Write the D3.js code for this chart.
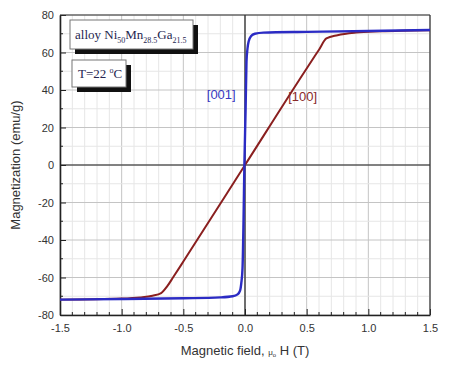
<!DOCTYPE html>
<html>
<head>
<meta charset="utf-8">
<script src="https://cdn.jsdelivr.net/npm/d3@7"></script>
<style>
  body { margin: 0; background: #fff; }
  svg { display: block; font-family: "Liberation Sans", Arial, sans-serif; }
</style>
</head>
<body>
<div id="chart"></div>
<script>
// field (T) and magnetization (emu/g)
const fieldTicks = [-1.5, -1.0, -0.5, 0.0, 0.5, 1.0, 1.5];
const magTicks = [-80, -60, -40, -20, 0, 20, 40, 60, 80];

const field001 = [-1.5, -1.0, -0.5, -0.2, -0.1, -0.06, -0.04, -0.03, -0.02, -0.012, -0.005, 0.005, 0.012, 0.02, 0.03, 0.05, 0.08, 0.15, 0.5, 1.0, 1.5];
const mag001 = [-71.8, -71.5, -71.1, -70.6, -70.0, -69.0, -67.0, -63.0, -55.0, -30.0, 0.0, 30.0, 55.0, 62.0, 66.0, 68.8, 70.0, 70.6, 71.0, 71.5, 72.0];

const field100 = [-1.5, -1.0, -0.85, -0.75, -0.68, -0.63, -0.58, -0.5, 0.0, 0.5, 0.6, 0.66, 0.75, 0.9, 1.1, 1.5];
const mag100 = [-71.8, -71.2, -70.6, -69.7, -68.3, -64.6, -59.6, -51.5, 0.0, 51.5, 61.5, 67.5, 69.2, 70.6, 71.3, 71.9];

const width = 450;
const height = 368;
const margin = { left: 60, right: 20, top: 15, bottom: 53 };

const svg = d3.select("#chart")
  .append("svg")
  .attr("width", width)
  .attr("height", height);

const x = d3.scaleLinear().domain([-1.5, 1.5]).range([margin.left, width - margin.right]);
const y = d3.scaleLinear().domain([-80, 80]).range([height - margin.bottom, margin.top]);

// grid: minor every 0.1 / 10, major every 0.5 / 20
const minorX = d3.range(-15, 16).map(d => d / 10);
const minorY = d3.range(-80, 81, 10);

svg.append("g").selectAll("line")
  .data(minorX)
  .enter()
  .append("line")
  .attr("x1", d => x(d)).attr("x2", d => x(d))
  .attr("y1", y(80)).attr("y2", y(-80))
  .attr("stroke", d => Math.abs(Math.round(d * 10)) % 5 === 0 ? "#c4c4c4" : "#e6e6e6")
  .attr("stroke-width", 1);

svg.append("g").selectAll("line")
  .data(minorY)
  .enter()
  .append("line")
  .attr("x1", x(-1.5)).attr("x2", x(1.5))
  .attr("y1", d => y(d)).attr("y2", d => y(d))
  .attr("stroke", d => d % 20 === 0 ? "#c4c4c4" : "#e6e6e6")
  .attr("stroke-width", 1);

// zero lines
svg.append("line")
  .attr("x1", x(0)).attr("x2", x(0)).attr("y1", y(80)).attr("y2", y(-80))
  .attr("stroke", "#222").attr("stroke-width", 1.2);
svg.append("line")
  .attr("x1", x(-1.5)).attr("x2", x(1.5)).attr("y1", y(0)).attr("y2", y(0))
  .attr("stroke", "#222").attr("stroke-width", 1.2);

// axes
const xAxis = d3.axisBottom(x).tickValues(fieldTicks).tickFormat(d3.format(".1f")).tickSizeInner(-6).tickSizeOuter(0).tickPadding(9);
const yAxis = d3.axisLeft(y).tickValues(magTicks).tickFormat(d3.format("d")).tickSizeInner(-6).tickSizeOuter(0).tickPadding(6);

const gx = svg.append("g").attr("transform", `translate(0,${y(-80)})`).call(xAxis);
const gy = svg.append("g").attr("transform", `translate(${x(-1.5)},0)`).call(yAxis);

[gx, gy].forEach(g => {
  g.select(".domain").attr("stroke", "#222").attr("stroke-width", 1.6);
  g.selectAll(".tick line").attr("stroke", "#222");
  g.selectAll(".tick text").attr("font-size", 11).attr("fill", "#333");
});
gx.selectAll(".tick text").text(d => d < 0 ? "-" + d3.format(".1f")(-d) : d3.format(".1f")(d));
gy.selectAll(".tick text").text(d => d < 0 ? "-" + (-d) : d);

// minor ticks
svg.append("g").selectAll("line")
  .data(minorX.filter(d => Math.abs(Math.round(d * 10)) % 5 !== 0))
  .enter()
  .append("line")
  .attr("x1", d => x(d)).attr("x2", d => x(d))
  .attr("y1", y(-80)).attr("y2", y(-80) - 3)
  .attr("stroke", "#222");
svg.append("g").selectAll("line")
  .data(minorY.filter(d => d % 20 !== 0))
  .enter()
  .append("line")
  .attr("x1", x(-1.5)).attr("x2", x(-1.5) + 3)
  .attr("y1", d => y(d)).attr("y2", d => y(d))
  .attr("stroke", "#222");

// top and right frame
svg.append("line")
  .attr("x1", x(-1.5)).attr("x2", x(1.5)).attr("y1", y(80)).attr("y2", y(80))
  .attr("stroke", "#333").attr("stroke-width", 1.2);
svg.append("line")
  .attr("x1", x(1.5)).attr("x2", x(1.5)).attr("y1", y(80)).attr("y2", y(-80))
  .attr("stroke", "#333").attr("stroke-width", 1.2);

// curves
const line = d3.line().x(d => x(d[0])).y(d => y(d[1])).curve(d3.curveMonotoneX);

svg.append("path")
  .datum(d3.zip(field100, mag100))
  .attr("d", line)
  .attr("fill", "none")
  .attr("stroke", "#8a1f1f")
  .attr("stroke-width", 2);

svg.append("path")
  .datum(d3.zip(field001, mag001))
  .attr("d", line)
  .attr("fill", "none")
  .attr("stroke", "#2b2bc4")
  .attr("stroke-width", 2.4);

// curve labels
svg.append("text").text("[001]")
  .attr("x", x(-0.31)).attr("y", y(35))
  .attr("font-size", 13).attr("fill", "#3838c0");
svg.append("text").text("[100]")
  .attr("x", x(0.35)).attr("y", y(34))
  .attr("font-size", 13).attr("fill", "#8a2a2a");

// legend boxes with shadow
function box(bx, by, bw, bh) {
  svg.append("rect").attr("x", bx + 5).attr("y", by + 5).attr("width", bw).attr("height", bh).attr("fill", "#111");
  svg.append("rect").attr("x", bx).attr("y", by).attr("width", bw).attr("height", bh)
    .attr("fill", "#fff").attr("stroke", "#777").attr("stroke-width", 1);
}

box(70, 20, 123, 29);
const t1 = svg.append("text")
  .attr("x", 75).attr("y", 39)
  .attr("font-family", "Liberation Serif, Times New Roman, serif")
  .attr("font-size", 13).attr("fill", "#262650");
t1.append("tspan").text("alloy Ni");
t1.append("tspan").text("50").attr("font-size", 8).attr("dy", 4);
t1.append("tspan").text("Mn").attr("dy", -4);
t1.append("tspan").text("28.5").attr("font-size", 8).attr("dy", 4);
t1.append("tspan").text("Ga").attr("dy", -4);
t1.append("tspan").text("21.5").attr("font-size", 8).attr("dy", 4);

box(72, 60, 54, 27);
const t2 = svg.append("text")
  .attr("x", 78).attr("y", 78)
  .attr("font-family", "Liberation Serif, Times New Roman, serif")
  .attr("font-size", 13).attr("fill", "#262650");
t2.append("tspan").text("T=22 ");
t2.append("tspan").text("o").attr("font-size", 8).attr("dy", -5);
t2.append("tspan").text("C").attr("dy", 5);

// axis titles
svg.append("text")
  .text("Magnetization (emu/g)")
  .attr("transform", `translate(20,${y(0)}) rotate(-90)`)
  .attr("text-anchor", "middle")
  .attr("font-size", 13).attr("fill", "#333");

const xt = svg.append("text")
  .attr("x", x(0)).attr("y", 355)
  .attr("text-anchor", "middle")
  .attr("font-size", 13).attr("fill", "#333");
xt.append("tspan").text("Magnetic field, ");
xt.append("tspan").text("μ").attr("font-size", 8);
xt.append("tspan").text("o").attr("font-size", 6).attr("dy", 2);
xt.append("tspan").text(" H (T)").attr("dy", -2);
</script>
</body>
</html>
